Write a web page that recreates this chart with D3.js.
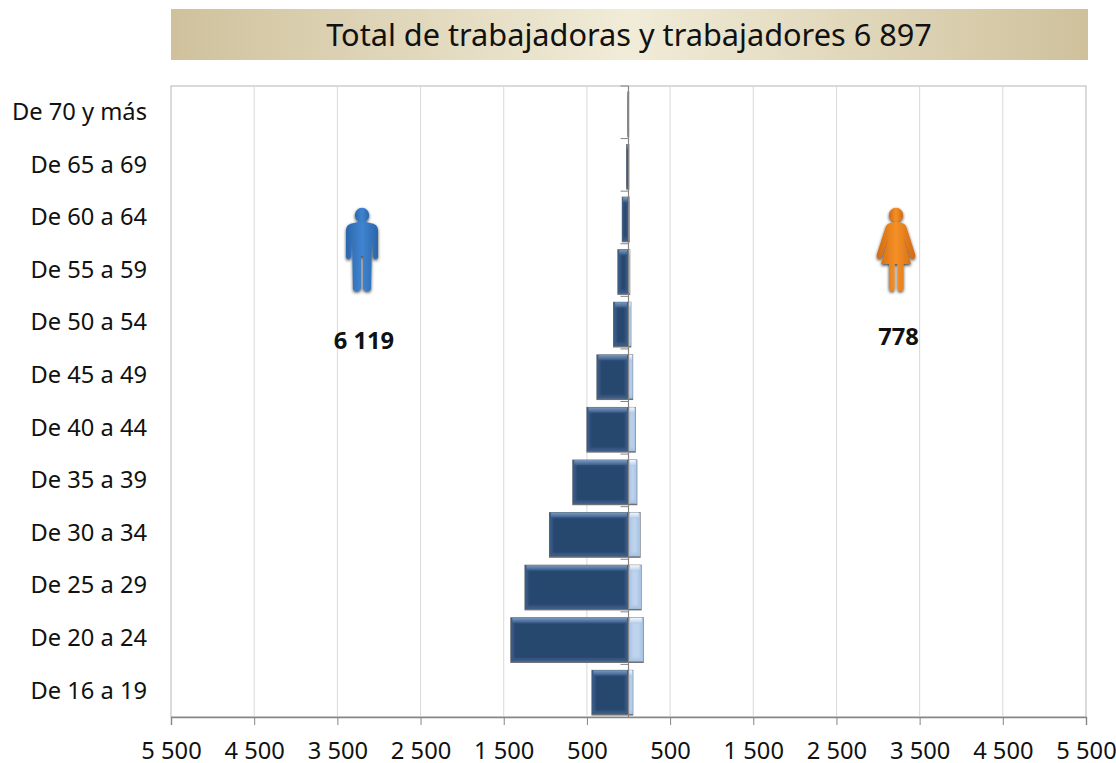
<!DOCTYPE html>
<html lang="es">
<head>
<meta charset="UTF-8">
<title>Total de trabajadoras y trabajadores</title>
<script src="https://d3js.org/d3.v7.min.js"></script>
<style>
	html, body { margin: 0; padding: 0; background: #fff; }
	svg, svg text { display: block; font-family: "Noto Sans", "Open Sans", sans-serif; }
</style>
</head>
<body>
<svg id="chart" width="1116" height="763"></svg>
<script>
const titleText = 'Total de trabajadoras y trabajadores 6 897'
const ageGroups = ['De 70 y más','De 65 a 69','De 60 a 64','De 55 a 59','De 50 a 54','De 45 a 49','De 40 a 44','De 35 a 39','De 30 a 34','De 25 a 29','De 20 a 24','De 16 a 19']
const men = [8, 22, 75, 128, 180, 380, 500, 670, 950, 1245, 1415, 440]
const women = [2, 4, 10, 15, 28, 50, 82, 100, 140, 152, 178, 52]
const tickValues = [-5500,-4500,-3500,-2500,-1500,-500,500,1500,2500,3500,4500,5500]
const totalMen = '6 119'
const totalWomen = '778'

const svg = d3.select('#chart')
const x = d3.scaleLinear().domain([-5500, 5500]).range([171, 1086])
const y = d3.scaleBand().domain(ageGroups).range([86, 717]).paddingInner(0.15).paddingOuter(0.075)
const fmt = v => String(Math.abs(v)).replace(/\B(?=(\d{3})+$)/g, ' ')

const defs = svg.append('defs')
function gradient(id, stops, horizontal) {
	const g = defs.append('linearGradient').attr('id', id)
		.attr('x1', 0).attr('y1', 0).attr('x2', horizontal ? 1 : 0).attr('y2', horizontal ? 0 : 1)
	stops.forEach(s => g.append('stop').attr('offset', s[0]).attr('stop-color', s[1]))
}
gradient('banner', [[0,'#cfc19c'],[0.5,'#f1ecd8'],[1,'#cfc19c']], true)
gradient('menTop', [[0,'#7a9ac0'],[1,'#3c5f8c']])
gradient('womenTop', [[0,'#f4f8fd'],[1,'#bcd2ec']])
gradient('manFill', [[0,'#2a66ad'],[0.5,'#3f84d0'],[1,'#2a66ad']], true)
gradient('womanFill', [[0,'#d06a10'],[0.5,'#f59028'],[1,'#d06a10']], true)

function blur(id, amount) {
	defs.append('filter').attr('id', id)
		.attr('x', '-30%').attr('y', '-30%').attr('width', '160%').attr('height', '160%')
		.append('feGaussianBlur').attr('stdDeviation', amount)
}
blur('soft', 0.7)
blur('inner', 1.3)
const shadow = defs.append('filter').attr('id', 'shadow')
	.attr('x', '-30%').attr('y', '-20%').attr('width', '160%').attr('height', '140%')
shadow.append('feDropShadow').attr('dx', 0).attr('dy', 1.5).attr('stdDeviation', 1.6)
	.attr('flood-color', '#222').attr('flood-opacity', 0.85)

// banner
svg.append('rect').attr('x', 171).attr('y', 9).attr('width', 917).attr('height', 51).attr('fill', 'url(#banner)')
svg.append('text').attr('x', 629).attr('y', 46).attr('text-anchor', 'middle')
	.attr('font-size', 30.7).attr('fill', '#111').text(titleText)

// frame and grid
svg.append('rect').attr('x', x(-5500)).attr('y', 86).attr('width', x(5500) - x(-5500)).attr('height', 631)
	.attr('fill', 'none').attr('stroke', '#b5b5b5')
svg.append('g').selectAll('line').data(tickValues.slice(1, -1)).join('line')
	.attr('x1', d => x(d)).attr('x2', d => x(d)).attr('y1', 86).attr('y2', 717)
	.attr('stroke', '#d9d9d9')

// x axis
const xAxis = svg.append('g').attr('transform', 'translate(0,717)')
	.call(d3.axisBottom(x).tickValues(tickValues).tickFormat(fmt).tickSizeOuter(0).tickSize(8).tickPadding(17))
	.attr('font-family', null)
xAxis.selectAll('line, path').attr('stroke', '#858585')
xAxis.select('.domain').attr('stroke-width', 1.4)
xAxis.selectAll('text').attr('font-size', 23.7).attr('fill', '#111')

// category labels
svg.append('g').selectAll('text').data(ageGroups).join('text')
	.attr('x', 147).attr('y', d => y(d) + y.bandwidth() / 2 - 0.5).attr('dy', '0.35em')
	.attr('text-anchor', 'end').attr('font-size', 23.7).attr('fill', '#111').text(d => d)

// bars, women first so the men overlap the axis
function drawBars(values, cls, left) {
	const g = svg.append('g').attr('class', cls).selectAll('g').data(values).join('g')
	const x0 = (d) => left ? x(-d) : x(0)
	const w = (d) => Math.abs(x(d) - x(0))
	const bevel = (d) => Math.min(3, w(d) / 4)
	const h = y.bandwidth() - 1
	const top = (d, i) => y(ageGroups[i]) + 2
	g.append('rect').attr('x', d => x0(d) - 0.5).attr('y', (d, i) => top(d, i) - 0.5)
		.attr('width', d => w(d) + 1).attr('height', h + 2)
		.attr('fill', '#6d6f73').attr('filter', 'url(#soft)')
	g.append('rect').attr('x', x0).attr('y', top).attr('width', w).attr('height', h)
		.attr('fill', left ? '#3a5c88' : '#a9c4e4').attr('filter', 'url(#soft)')
	g.append('rect').attr('x', d => x0(d) + bevel(d)).attr('y', (d, i) => top(d, i) + 5)
		.attr('width', d => w(d) - 2 * bevel(d)).attr('height', h - 8)
		.attr('fill', left ? '#28476e' : '#bdd3ee').attr('filter', 'url(#inner)')
	g.append('rect').attr('x', d => x0(d) + bevel(d) / 2).attr('y', top).attr('width', d => w(d) - bevel(d)).attr('height', 5)
		.attr('fill', left ? 'url(#menTop)' : 'url(#womenTop)').attr('filter', 'url(#soft)')
}
drawBars(women, 'women', false)
drawBars(men, 'men', true)

// vertical zero axis with its ticks on the left
const yAxis = svg.append('g').attr('transform', `translate(${x(0)},0)`)
yAxis.append('line').attr('y1', 86).attr('y2', 717).attr('stroke', '#858585').attr('stroke-width', 1.2)
yAxis.selectAll('.tick').data(ageGroups).join('line').attr('class', 'tick')
	.attr('x1', -8).attr('x2', 0)
	.attr('y1', d => y(d) - y.step() * 0.075).attr('y2', d => y(d) - y.step() * 0.075)
	.attr('stroke', '#858585')

// figures
const manPath = 'M-8,-27 Q0,-30 8,-27 Q16,-26 16,-20 L16,6 Q16,9 14,9 Q11,9 11,6 L10,-15 L9,38 Q9,41 6,41 Q1,41 1,38 L1,6 L-1,6 L-1,38 Q-1,41 -6,41 Q-9,41 -9,38 L-10,-15 L-11,6 Q-11,9 -14,9 Q-16,9 -16,6 L-16,-20 Q-16,-26 -8,-27 Z'
const womanPath = 'M-6,-27 Q0,-29 6,-27 Q10,-26 11,-21 L19,4 Q20,8 17,9 Q15,9 14,6 L8,-11 L15,14 L7.5,14 L7.5,38 Q7.5,41 4,41 Q1.5,41 1.5,38 L1.5,14 L-1.5,14 L-1.5,38 Q-1.5,41 -4,41 Q-7,41 -7,38 L-7,14 L-15,14 L-8,-11 L-14,6 Q-15,9 -17,9 Q-20,8 -19,4 L-11,-21 Q-10,-26 -6,-27 Z'
function figure(cx, path, fill) {
	const g = svg.append('g').attr('transform', `translate(${cx},250)`).attr('filter', 'url(#shadow)')
	g.append('circle').attr('cy', -35).attr('r', 7.2).attr('fill', fill)
	g.append('path').attr('d', path).attr('fill', fill)
}
figure(362, manPath, 'url(#manFill)')
figure(896, womanPath, 'url(#womanFill)')

svg.append('text').attr('x', 364).attr('y', 349).attr('text-anchor', 'middle')
	.attr('font-size', 23.7).attr('font-weight', 700).attr('fill', '#111').text(totalMen)
svg.append('text').attr('x', 898.5).attr('y', 345).attr('text-anchor', 'middle')
	.attr('font-size', 23.7).attr('font-weight', 700).attr('fill', '#111').text(totalWomen)
</script>
</body>
</html>
